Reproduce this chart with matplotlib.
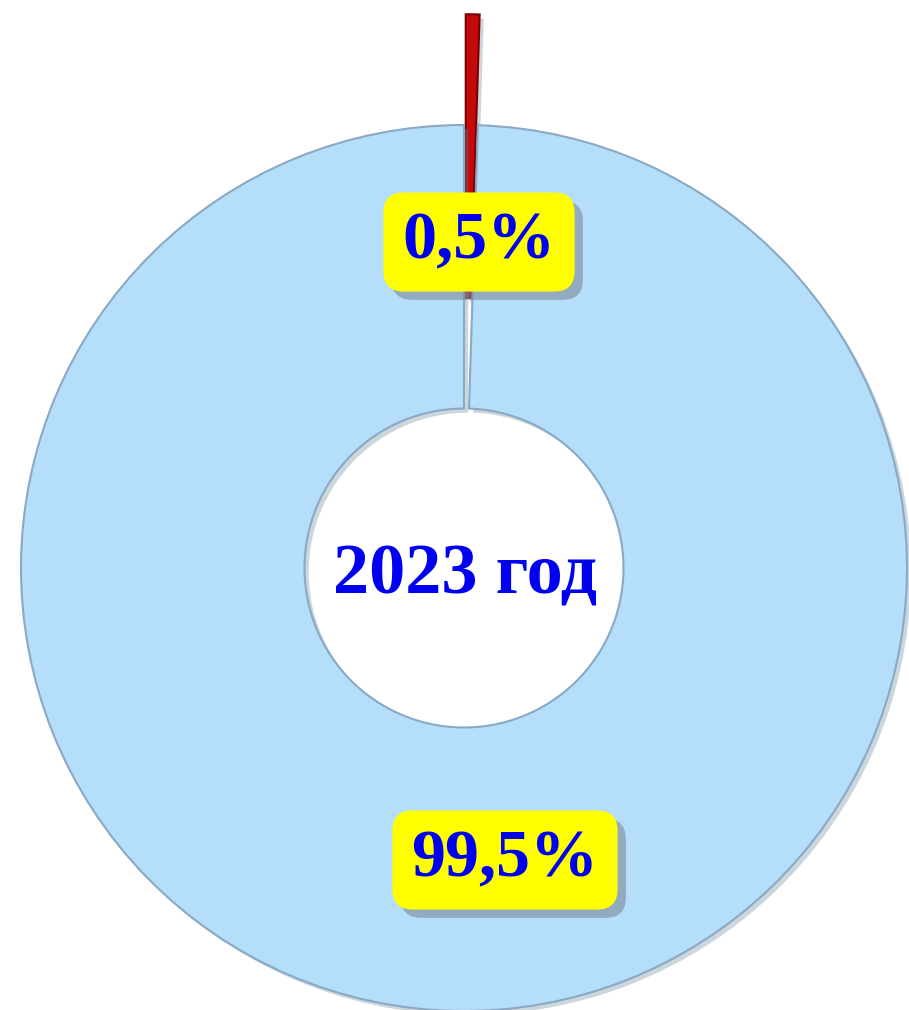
import matplotlib.pyplot as plt
import matplotlib.patheffects as pe

# Data
categories = ['Прочее', 'Основное']
shares = [0.5, 99.5]
year_label = '2023 год'

colors = ['#C40A0A', '#B5DEFA']
edge_colors = ['#7A0000', '#8AA9C4']
explode = [0.25, 0.0]

# Canvas 909 x 1010 px; pie radius = 1 unit = 443 px
W, H = 909, 1010
px = 443.0
cx, cy = 464, 568          # pie centre, pixels from top-left

fig = plt.figure(figsize=(W / 100, H / 100), dpi=100)
ax = fig.add_axes([0, 0, 1, 1])

wedges, _ = ax.pie(shares, colors=colors, startangle=90, counterclock=False,
                   explode=explode, radius=1.0,
                   wedgeprops=dict(width=0.64, linewidth=1.5))
for w, ec in zip(wedges, edge_colors):
    w.set_edgecolor(ec)
    w.set_path_effects([pe.SimplePatchShadow(offset=(3, -3), shadow_rgbFace='#6f8aa0', alpha=0.35),
                        pe.Normal()])

ax.set_xlim(-cx / px, (W - cx) / px)
ax.set_ylim(-(H - cy) / px, cy / px)
ax.set_aspect('equal')
ax.axis('off')


def to_units(x, y):
    return (x - cx) / px, (cy - y) / px


def fmt(v):
    return ('%.1f' % v).replace('.', ',') + '%'


# Percent labels in yellow boxes with a soft shadow
label_pos = [(479, 242), (505, 860)]
for v, (x, y) in zip(shares, label_pos):
    t = ax.text(*to_units(x, y), fmt(v), color='#0000F0', ha='center', va='center',
                family='Liberation Serif', weight='bold', size=49,
                bbox=dict(boxstyle='round,pad=0.28,rounding_size=0.3', fc='#FFFF00', ec='none'))
    t.get_bbox_patch().set_path_effects([
        pe.SimplePatchShadow(offset=(6, -6), shadow_rgbFace='#7d8a96', alpha=0.6),
        pe.Normal()])

# Center caption
ax.text(*to_units(cx + 1, 576), year_label, color='#0000F0', ha='center', va='center',
        family='Liberation Serif', weight='bold', size=52)

fig.savefig('out.png', dpi=100)
